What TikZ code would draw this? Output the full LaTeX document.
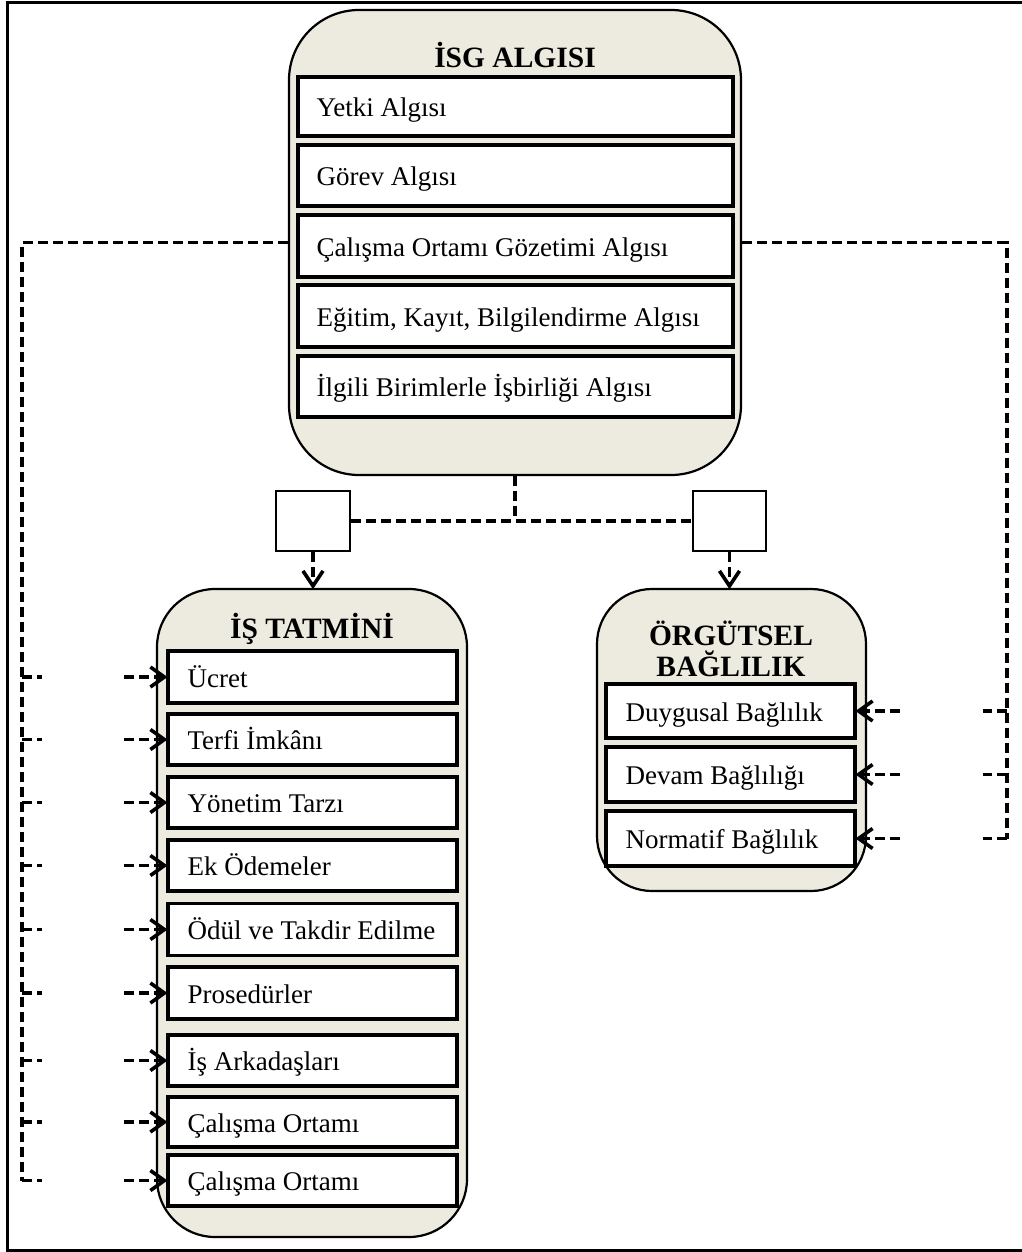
\documentclass[tikz,border=0pt]{standalone}
\usepackage{fontspec}
\setmainfont{Liberation Serif}
\usetikzlibrary{arrows.meta}
\definecolor{boxbeige}{RGB}{237,234,224}
\newcommand{\myitemfont}{\fontsize{27}{31}\selectfont}
\newcommand{\mytitlefont}{\bfseries\fontsize{29.5}{33}\selectfont}
\begin{document}
\begin{tikzpicture}[x=1pt,y=-1pt,
  bigbox/.style={draw, line width=2.2pt, fill=boxbeige, inner sep=0pt},
  itembox/.style={draw, line width=3.2pt, fill=white, inner sep=0pt},
  itxt/.style={anchor=base west, inner sep=0pt, font=\myitemfont},
  ttxt/.style={anchor=base, inner sep=0pt, font=\mytitlefont},
  smallbox/.style={draw, line width=2.4pt, fill=white, inner sep=0pt, minimum width=74pt, minimum height=60pt},
  dl/.style={line width=3.4pt, dash pattern=on 10pt off 5pt},
  chev/.style={line width=3.6pt, solid, line join=miter, line cap=butt}
]
\useasboundingbox (0,0) rectangle (1021,1252);
\draw[line width=3pt] (7,3) rectangle (1024,1250);

% big boxes
\node[bigbox, rounded corners=70pt, minimum width=452pt, minimum height=465pt] (isg) at (515,242.5) {};
\node[bigbox, rounded corners=58pt, minimum width=310pt, minimum height=648pt] (ist) at (312,913) {};
\node[bigbox, rounded corners=55pt, minimum width=269pt, minimum height=302pt] (org) at (731.5,740) {};

% titles
\node[ttxt] (isgt) at (515,68) {İSG ALGISI};
\node[ttxt] (istt) at (312,638) {İŞ TATMİNİ};
\node[ttxt] (orgt1) at (731,645) {ÖRGÜTSEL};
\node[ttxt] (orgt2) at (731,676) {BAĞLILIK};

% ISG items
\node[itembox, minimum width=435pt, minimum height=59pt] (a1) at (515.5,106.5) {};
\node[itxt] (a1t) at ([xshift=20pt,yshift=-10pt]a1.west) {Yetki Algısı};
\node[itembox, minimum width=435pt, minimum height=61pt] (a2) at (515.5,175.5) {};
\node[itxt] (a2t) at ([xshift=20pt,yshift=-10pt]a2.west) {Görev Algısı};
\node[itembox, minimum width=435pt, minimum height=62pt] (a3) at (515.5,246) {};
\node[itxt] (a3t) at ([xshift=20pt,yshift=-10pt]a3.west) {Çalışma Ortamı Gözetimi Algısı};
\node[itembox, minimum width=435pt, minimum height=62pt] (a4) at (515.5,316) {};
\node[itxt] (a4t) at ([xshift=20pt,yshift=-10pt]a4.west) {Eğitim, Kayıt, Bilgilendirme Algısı};
\node[itembox, minimum width=435pt, minimum height=61pt] (a5) at (515.5,386.5) {};
\node[itxt] (a5t) at ([xshift=20pt,yshift=-10pt]a5.west) {İlgili Birimlerle İşbirliği Algısı};

% IS TATMINI items
\node[itembox, minimum width=289pt, minimum height=52pt] (b1) at (312.5,677) {};
\node[itxt] (b1t) at ([xshift=21pt,yshift=-10pt]b1.west) {Ücret};
\node[itembox, minimum width=289pt, minimum height=51pt] (b2) at (312.5,739.5) {};
\node[itxt] (b2t) at ([xshift=21pt,yshift=-10pt]b2.west) {Terfi İmkânı};
\node[itembox, minimum width=289pt, minimum height=51pt] (b3) at (312.5,802.5) {};
\node[itxt] (b3t) at ([xshift=21pt,yshift=-10pt]b3.west) {Yönetim Tarzı};
\node[itembox, minimum width=289pt, minimum height=51pt] (b4) at (312.5,865.5) {};
\node[itxt] (b4t) at ([xshift=21pt,yshift=-10pt]b4.west) {Ek Ödemeler};
\node[itembox, minimum width=289pt, minimum height=52pt] (b5) at (312.5,929.5) {};
\node[itxt] (b5t) at ([xshift=21pt,yshift=-10pt]b5.west) {Ödül ve Takdir Edilme};
\node[itembox, minimum width=289pt, minimum height=52pt] (b6) at (312.5,993) {};
\node[itxt] (b6t) at ([xshift=21pt,yshift=-10pt]b6.west) {Prosedürler};
\node[itembox, minimum width=289pt, minimum height=51pt] (b7) at (312.5,1060.5) {};
\node[itxt] (b7t) at ([xshift=21pt,yshift=-10pt]b7.west) {İş Arkadaşları};
\node[itembox, minimum width=289pt, minimum height=50pt] (b8) at (312.5,1122) {};
\node[itxt] (b8t) at ([xshift=21pt,yshift=-10pt]b8.west) {Çalışma Ortamı};
\node[itembox, minimum width=289pt, minimum height=51pt] (b9) at (312.5,1180.5) {};
\node[itxt] (b9t) at ([xshift=21pt,yshift=-10pt]b9.west) {Çalışma Ortamı};

% ORGUTSEL items
\node[itembox, minimum width=249pt, minimum height=54pt] (c1) at (730.5,711) {};
\node[itxt] (c1t) at ([xshift=21pt,yshift=-10pt]c1.west) {Duygusal Bağlılık};
\node[itembox, minimum width=249pt, minimum height=55pt] (c2) at (730.5,774.5) {};
\node[itxt] (c2t) at ([xshift=21pt,yshift=-10pt]c2.west) {Devam Bağlılığı};
\node[itembox, minimum width=249pt, minimum height=55pt] (c3) at (730.5,838.5) {};
\node[itxt] (c3t) at ([xshift=21pt,yshift=-10pt]c3.west) {Normatif Bağlılık};

% small boxes
\node[smallbox] (sl) at (313,521) {};
\node[smallbox, minimum width=73pt] (sr) at (729.5,521) {};

% central connectors
\draw[dl] (isg.south) -- (isg.south |- sl.east);
\draw[dl] (sl.east) -- (sr.west);
\coordinate (slend) at ([yshift=2pt]sl.south |- ist.north);
\coordinate (srend) at ([yshift=2pt]sr.south |- org.north);
\draw[dl] (sl.south) -- (slend);
\draw[chev] ([shift={(-10,-15)}]slend) -- (slend) -- ([shift={(10,-15)}]slend);
\draw[dl] (sr.south) -- (srend);
\draw[chev] ([shift={(-10,-15)}]srend) -- (srend) -- ([shift={(10,-15)}]srend);

% left feedback lines
\coordinate (lt) at (22,242.5);
\coordinate (lb) at (22,1180.5);
\draw[dl] (isg.west) -- (lt) -- (lb);
\foreach \n in {1,...,9}{
  \draw[dl] (lt |- b\n.west) -- ++(20,0);
  \draw[dl] ([xshift=-42pt]b\n.west) -- ([xshift=-2pt]b\n.west);
  \draw[chev] ([shift={(-16,-10)}]b\n.west) -- ([xshift=-2pt]b\n.west) -- ([shift={(-16,10)}]b\n.west);
}

% right feedback lines
\coordinate (rt) at (1007,242.5);
\coordinate (rb) at (1007,838.5);
\draw[dl] (isg.east) -- (rt) -- (rb);
\foreach \n in {1,2,3}{
  \draw[dl] (rt |- c\n.east) -- ++(-24,0);
  \draw[dl] ([xshift=43pt]c\n.east) -- ([xshift=2pt]c\n.east);
  \draw[chev] ([shift={(16,-10)}]c\n.east) -- ([xshift=2pt]c\n.east) -- ([shift={(16,10)}]c\n.east);
}
\end{tikzpicture}
\end{document}
